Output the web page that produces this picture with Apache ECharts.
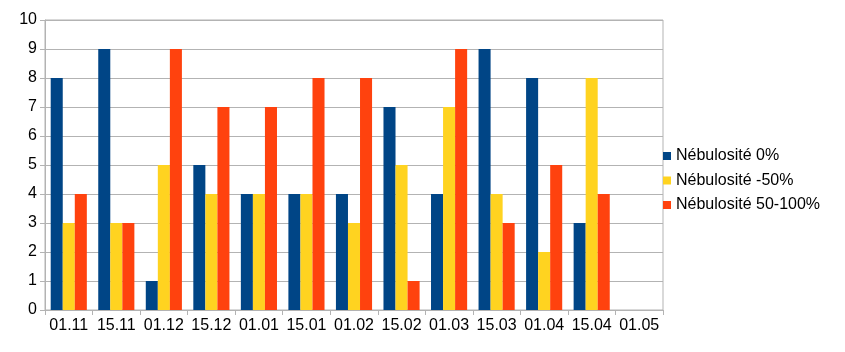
<!DOCTYPE html>
<html><head><meta charset="utf-8">
<script src="https://cdn.jsdelivr.net/npm/echarts@6/dist/echarts.min.js"></script>
<style>html,body{margin:0;padding:0;background:#fff}#c{width:845px;height:352px}</style>
</head><body><div id="c"></div>
<script>
const categories = ['01.11','15.11','01.12','15.12','01.01','15.01','01.02','15.02','01.03','15.03','01.04','15.04','01.05'];
const seriesNames = ['Nébulosité 0%','Nébulosité -50%','Nébulosité 50-100%'];
const neb0 = [8,9,1,5,4,4,4,7,4,9,8,3,null];
const neb50 = [3,3,5,4,4,4,3,5,7,4,2,8,null];
const neb100 = [4,3,9,7,7,8,8,1,9,3,5,4,null];
const colors = ['#004586','#ffd320','#ff420e'];
const font = 'Liberation Sans, Arial, sans-serif';
const chart = echarts.init(document.getElementById('c'));
chart.setOption({
  animation:false,
  color:colors,
  grid:{left:45,right:182,top:20,bottom:42,show:true,borderColor:'#b3b3b3',borderWidth:1},
  legend:{orient:'vertical',left:658,top:143,itemWidth:8,itemHeight:8,itemGap:8.5,icon:'rect',
    textStyle:{fontFamily:font,fontSize:16,color:'#000'},data:seriesNames},
  xAxis:{type:'category',data:categories,
    axisLine:{lineStyle:{color:'#b3b3b3'}},
    axisTick:{show:true,length:5,lineStyle:{color:'#b3b3b3'}},
    axisLabel:{fontFamily:font,fontSize:16,color:'#000',margin:8,interval:0}},
  yAxis:{type:'value',min:0,max:10,interval:1,
    axisLine:{show:true,lineStyle:{color:'#b3b3b3'}},
    axisTick:{show:true,length:5,lineStyle:{color:'#b3b3b3'}},
    splitLine:{lineStyle:{color:'#b3b3b3'}},
    axisLabel:{fontFamily:font,fontSize:16,color:'#000',margin:8}},
  series:[
    {name:seriesNames[0],type:'bar',data:neb0,barGap:'0%',barCategoryGap:'24%'},
    {name:seriesNames[1],type:'bar',data:neb50,barGap:'0%',barCategoryGap:'24%'},
    {name:seriesNames[2],type:'bar',data:neb100,barGap:'0%',barCategoryGap:'24%'}
  ]
});
</script></body></html>
